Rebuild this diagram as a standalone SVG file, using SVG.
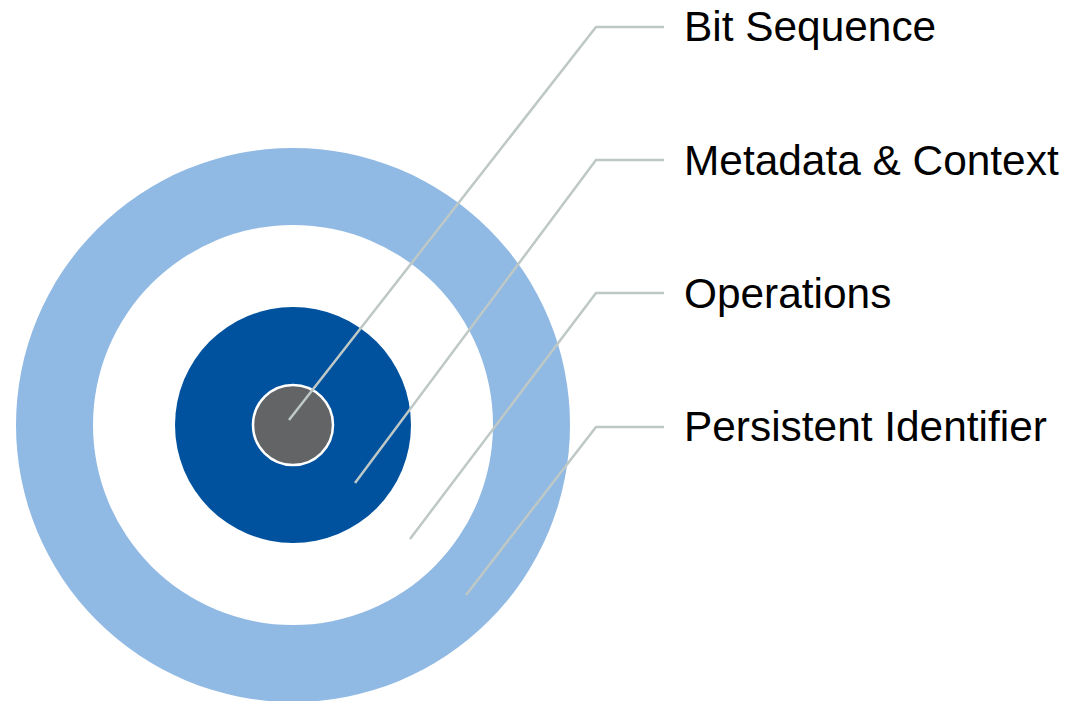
<svg xmlns="http://www.w3.org/2000/svg" width="1066" height="701" viewBox="0 0 1066 701">
  <style>
    .leader { fill: none; stroke: #BEC8C6; stroke-width: 2.5; }
    .label { font-family: "Liberation Sans", Arial, sans-serif; font-size: 42.4px; fill: #000; }
  </style>
  <rect width="1066" height="701" fill="#fff"/>
  <g id="persistent-identifier">
    <circle cx="293" cy="425" r="277" fill="#90B9E3"/>
  </g>
  <g id="operations">
    <circle cx="293" cy="425" r="200" fill="#fff"/>
  </g>
  <g id="metadata-context">
    <circle cx="293" cy="425" r="118" fill="#01529E"/>
  </g>
  <g id="bit-sequence">
    <circle cx="293" cy="425" r="40" fill="#636466" stroke="#fff" stroke-width="2.5"/>
  </g>
  <g id="connectors">
    <polyline class="leader" points="289,420 596,27 664,27"/>
    <polyline class="leader" points="355,483 596,160 664,160"/>
    <polyline class="leader" points="410,539 596,293 664,293"/>
    <polyline class="leader" points="466,595 596,427 664,427"/>
  </g>
  <g id="labels">
    <text class="label" x="684" y="41">Bit Sequence</text>
    <text class="label" x="684" y="175">Metadata &amp; Context</text>
    <text class="label" x="684" y="308">Operations</text>
    <text class="label" x="684" y="441">Persistent Identifier</text>
  </g>
</svg>
